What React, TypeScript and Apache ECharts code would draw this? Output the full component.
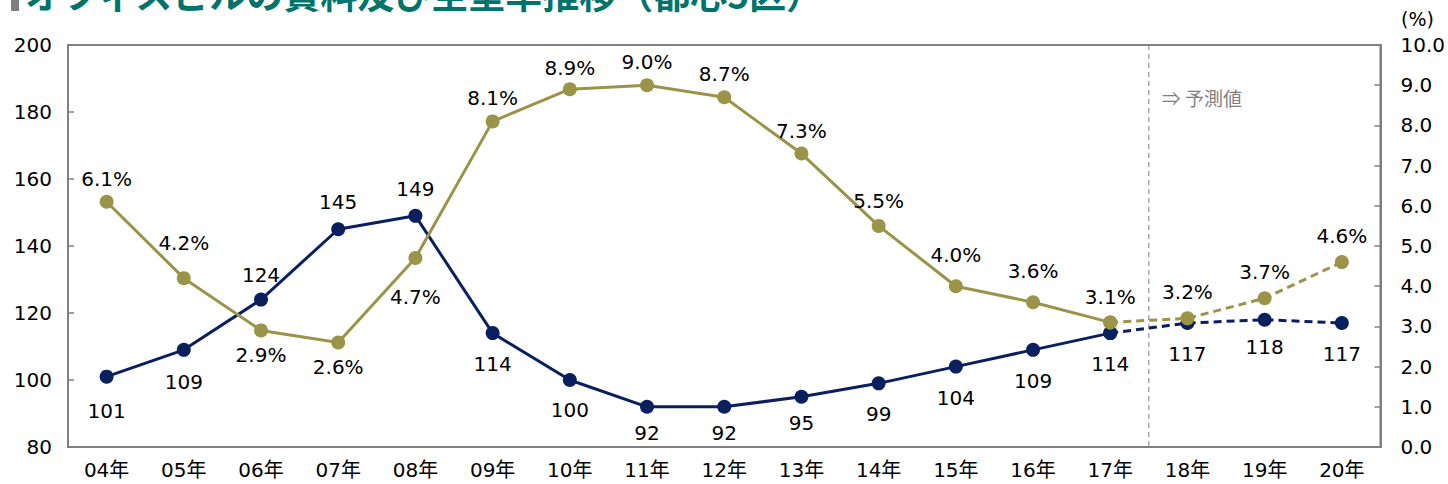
import React, { useEffect, useRef } from 'react';
import * as echarts from 'echarts';

const categories = ['04年', '05年', '06年', '07年', '08年', '09年', '10年', '11年', '12年', '13年', '14年', '15年', '16年', '17年', '18年', '19年', '20年'];
const rent = [101, 109, 124, 145, 149, 114, 100, 92, 92, 95, 99, 104, 109, 114, 117, 118, 117];
const vacancy = [6.1, 4.2, 2.9, 2.6, 4.7, 8.1, 8.9, 9.0, 8.7, 7.3, 5.5, 4.0, 3.6, 3.1, 3.2, 3.7, 4.6];
const lastActualIndex = 13;
const rentLabelPos = ['bottom', 'bottom', 'top', 'top', 'top', 'bottom', 'bottom', 'bottom', 'bottom', 'bottom', 'bottom', 'bottom', 'bottom', 'bottom', 'bottom', 'bottom', 'bottom'];
const rentLabelGap = [17, 15, 8, 10, 10, 14, 13, 9, 9, 9, 14, 14, 14, 14, 14, 10, 14];
const vacancyLabelPos = ['top', 'top', 'bottom', 'bottom', 'bottom', 'top', 'top', 'top', 'top', 'top', 'top', 'top', 'top', 'top', 'top', 'top', 'top'];
const vacancyLabelGap = [6, 18, 8, 8, 22, 6, 4, 6, 6, 6, 8, 14, 14, 8, 9, 9, 9];
const titleText = 'オフィスビルの賃料及び空室率推移（都心5区）';
const forecastText = '⇒ 予測値';
const unitText = '(%)';

const NAVY = '#0A1F5E';
const OLIVE = '#9A9448';
const GREY = '#808080';
const FONT = "'DejaVu Sans', Verdana, 'Noto Sans CJK JP', sans-serif";

export default function App() {
  const ref = useRef<HTMLDivElement>(null);
  useEffect(() => {
    document.body.style.margin = '0';
    const chart = echarts.init(ref.current!, undefined, { renderer: 'svg' });

    const mk = (vals: number[], pos: string[], gaps: number[], solid: boolean, fmt: (v: number) => string) =>
      vals.map((v, i) => {
        const inSolid = i <= lastActualIndex;
        const inDash = i >= lastActualIndex;
        if (solid ? !inSolid : !inDash) return null;
        const showLabel = solid ? true : i > lastActualIndex;
        return {
          value: v,
          label: { show: showLabel, position: pos[i], distance: gaps[i], formatter: () => fmt(v) },
        };
      });

    const rentFmt = (v: number) => String(v);
    const vacFmt = (v: number) => v.toFixed(1) + '%';

    const labelStyle = { fontSize: 20, color: '#000', fontFamily: FONT };

    const baseSeries = (name: string, color: string, yAxisIndex: number, data: any[], dashed: boolean, z: number) => ({
      name,
      type: 'line',
      yAxisIndex,
      data,
      symbol: 'circle',
      symbolSize: 14,
      z,
      connectNulls: false,
      itemStyle: { color },
      lineStyle: { color, width: 3, type: dashed ? [8, 5] : 'solid' },
      label: labelStyle,
      emphasis: { disabled: true },
    });

    chart.setOption({
      animation: false,
      grid: { left: 68, right: 65, top: 45, bottom: 37, show: true, borderColor: GREY, borderWidth: 2, backgroundColor: 'transparent' },
      xAxis: {
        type: 'category',
        data: categories,
        boundaryGap: true,
        axisLine: { lineStyle: { color: GREY, width: 2 } },
        axisTick: { inside: true, length: 6, lineStyle: { color: GREY, width: 1.5 } },
        axisLabel: { fontSize: 20, color: '#000', fontFamily: FONT, margin: 13 },
      },
      yAxis: [
        {
          type: 'value', min: 80, max: 200, interval: 20,
          axisLine: { show: true, lineStyle: { color: GREY, width: 2 } },
          axisTick: { show: true, inside: true, length: 6, lineStyle: { color: GREY, width: 1.5 } },
          axisLabel: { fontSize: 20, color: '#000', fontFamily: FONT, margin: 16 },
          splitLine: { show: false },
        },
        {
          type: 'value', min: 0, max: 10, interval: 1,
          axisLine: { show: true, lineStyle: { color: GREY, width: 2 } },
          axisTick: { show: true, inside: true, length: 6, lineStyle: { color: GREY, width: 1.5 } },
          axisLabel: { fontSize: 20, color: '#000', fontFamily: FONT, margin: 20, formatter: (v: number) => v.toFixed(1) },
          splitLine: { show: false },
        },
      ],
      series: [
        baseSeries('賃料', NAVY, 0, mk(rent, rentLabelPos, rentLabelGap, true, rentFmt), false, 2),
        baseSeries('賃料予測', NAVY, 0, mk(rent, rentLabelPos, rentLabelGap, false, rentFmt), true, 2),
        baseSeries('空室率', OLIVE, 1, mk(vacancy, vacancyLabelPos, vacancyLabelGap, true, vacFmt), false, 3),
        baseSeries('空室率予測', OLIVE, 1, mk(vacancy, vacancyLabelPos, vacancyLabelGap, false, vacFmt), true, 3),
      ],
    });

    const xa = chart.convertToPixel({ xAxisIndex: 0 }, categories[lastActualIndex]) as number;
    const xb = chart.convertToPixel({ xAxisIndex: 0 }, categories[lastActualIndex + 1]) as number;
    const xSplit = (xa + xb) / 2;
    const yTop = chart.convertToPixel({ yAxisIndex: 0 }, 200) as number;
    const yBot = chart.convertToPixel({ yAxisIndex: 0 }, 80) as number;

    chart.setOption({
      graphic: [
        { type: 'rect', shape: { x: 11, y: 0, width: 8, height: 11 }, style: { fill: '#7F7F7F' } },
        {
          type: 'text', x: 25, y: 11,
          style: { text: titleText, fill: '#00736B', font: "bold 37px 'Noto Sans CJK JP'", textVerticalAlign: 'bottom' },
        },
        {
          type: 'line', shape: { x1: xSplit, y1: yTop, x2: xSplit, y2: yBot },
          style: { stroke: GREY, lineWidth: 1, lineDash: [5, 4] }, z: 1,
        },
        {
          type: 'text', x: xSplit + 13, y: 97,
          style: { text: forecastText, fill: '#7F7F7F', font: "19px 'Noto Sans CJK JP'", textVerticalAlign: 'middle' },
        },
        {
          type: 'text', x: 1401, y: 19,
          style: { text: unitText, fill: '#000', font: "19px 'DejaVu Sans'", textVerticalAlign: 'middle' },
        },
      ],
    });

    return () => chart.dispose();
  }, []);
  return <div ref={ref} style={{ width: 1448, height: 484 }} />;
}
